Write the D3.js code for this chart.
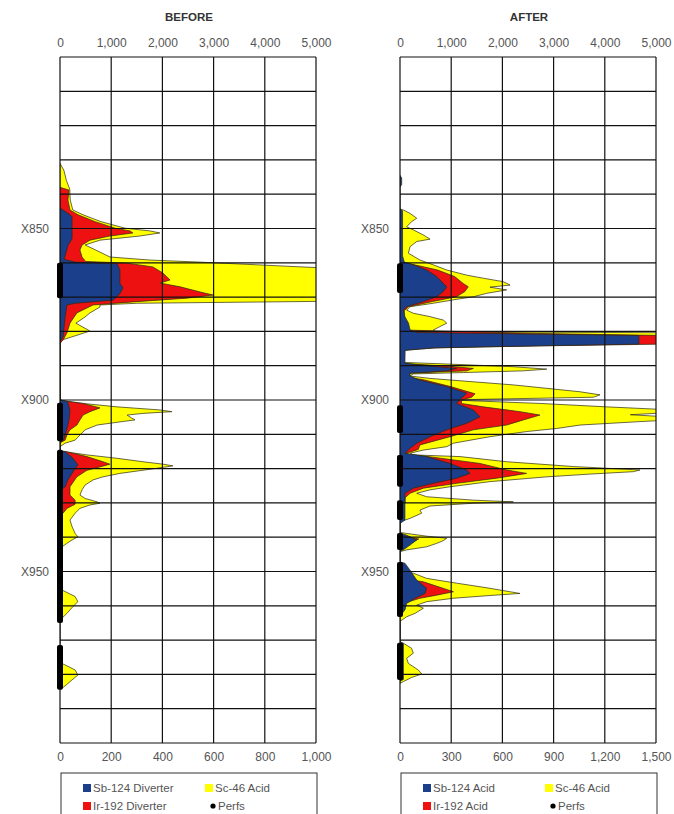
<!DOCTYPE html>
<html>
<head>
<meta charset="utf-8">
<script src="https://cdn.jsdelivr.net/npm/d3@7"></script>
<style>
  body { margin: 0; background: #fff; }
  text { font-family: "Liberation Sans", Arial, sans-serif; }
</style>
</head>
<body>
<div id="chart"></div>
<script>
// ---- data (depth, value) ----
const depthTicks = [850, 900, 950];
const topTicks = [0, 1000, 2000, 3000, 4000, 5000];
const beforeBottomTicks = [0, 200, 400, 600, 800, 1000];
const afterBottomTicks = [0, 300, 600, 900, 1200, 1500];

const beforeSc = [
  [831,0],[833,15],[836,25],[838.5,38],[841.7,40],[844.6,50],[846,90],[848,160],[849.9,254],[850.7,351],[851.3,390],[852.2,312],[853.4,156],[854.8,98],[856.3,140],[858.3,195],[859.2,351],[859.8,547],[860.9,859],[862.1,1200],[871.1,1200],[871.8,300],[872.3,156],[872.9,156],[874.6,117],[875.8,98],[877.6,62],[879.9,117],[881.3,59],[882.5,8],[883.2,0],
  [899.8,0],[900.2,12],[901.0,90],[902.0,223],[902.9,390],[903.4,437],[903.9,324],[904.4,262],[905.3,281],[905.8,293],[906.5,223],[907.3,145],[908.7,98],[910.2,78],[911.7,59],[912.6,20],[913.6,0],
  [914.8,0],[915.1,20],[916.0,105],[917.0,223],[918.0,324],[918.7,402],[919.2,441],[919.9,379],[920.6,312],[921.4,234],[922.4,168],[923.3,129],[924.8,98],[926.2,86],[927.7,78],[928.7,98],[929.7,145],[930.1,156],[930.6,117],[931.6,78],[933.0,59],[935.0,39],[936.9,47],[938.9,59],[939.9,70],[940.8,47],[941.8,27],[942.8,8],[943.5,0],
  [955,0],[955.4,8],[957.3,59],[958.8,70],[960.2,51],[962.2,27],[963.6,8],[964.2,0],
  [976.4,0],[976.8,8],[978.7,59],[980.2,70],[981.6,47],[983.6,16],[984.3,0]
];
const beforeIr = [
  [838,0],[838.8,35],[841.7,31],[844.6,39],[846,70],[848,137],[849.9,215],[850.7,273],[851.3,285],[852.2,195],[853.4,117],[854.8,86],[856.3,78],[858.3,86],[859.6,100],[860.1,262],[861.2,363],[863,402],[865,430],[865.9,390],[867,469],[868.5,547],[869.4,598],[870.3,496],[871.4,285],[872.3,129],[874.6,66],[877.6,39],[880.5,27],[882.5,12],[883.5,0],
  [900,0],[900.4,27],[901,90],[902.3,156],[903.4,117],[904.4,90],[905.8,78],[907.3,66],[908.7,39],[910.2,27],[911.7,20],[912.5,0],
  [914.8,0],[915.1,27],[916.5,105],[918.0,168],[918.7,195],[919.5,156],[920.5,105],[922.4,66],[925.3,39],[927.7,39],[929.2,59],[930.4,59],[931.6,27],[933,12],[933.8,0]
];
const beforeSb = [
  [844,0],[845,20],[846.5,47],[849,47],[853,47],[855,31],[859,16],[859.8,60],[860.3,223],[862,234],[866,234],[867.3,246],[869,234],[870.9,207],[871.8,60],[872.3,27],[875.8,20],[881.6,12],[883,0],
  [900,0],[900.5,30],[903,39],[906,35],[909,25],[911.5,15],[912.5,0],
  [914.9,0],[915.1,20],[917.0,51],[918.9,70],[920.9,51],[923.3,31],[925.3,20],[926.5,0],
  [939.3,0],[940,12],[941,0]
];
const beforePerfs = [[860, 870.3], [900.8, 912], [914.5, 965], [971.4, 984.5]];

const afterSc = [
  [844.3,0],[844.6,20],[845.6,59],[847.0,98],[848.0,68],[849.5,39],[850.4,78],[851.9,137],[853.1,176],[853.8,98],[855.3,59],[857.2,49],[859.2,117],[860.6,195],[862.1,274],[863.6,391],[864.5,489],[865.5,605],[866.5,645],[867.1,527],[867.9,625],[868.9,508],[869.9,430],[870.8,313],[871.8,195],[872.8,59],[873.8,39],[874.7,78],[875.7,176],[876.7,254],[877.6,274],[878.6,234],[879.6,195],[880.1,210],[880.4,1600],[881.3,1550],[883.7,1300],[884.3,600],[884.8,150],[885.5,20],[886,0],
  [889.0,0],[889.5,274],[890.3,664],[891.0,860],[891.5,723],[892.0,371],[892.4,78],[893.0,59],[893.7,176],[894.7,430],[895.6,664],[896.6,860],[897.6,1055],[898.5,1172],[899.2,1133],[899.8,469],[900.0,300],[901.0,820],[902.0,1211],[902.9,1600],[903.6,1600],[904.3,1350],[905.0,1600],[905.8,1600],[906.3,1406],[907.3,1055],[908.3,918],[909.2,742],[910.7,527],[912.6,313],[913.6,274],[914.6,137],[915.5,60],[916.0,78],[916.5,352],[918.0,625],[919.4,1016],[920.4,1406],[920.9,1367],[921.6,1113],[922.4,860],[923.8,527],[925.3,293],[926.2,176],[927.2,98],[928.2,156],[929.2,430],[929.7,664],[930.1,430],[930.9,176],[932.1,117],[933.0,127],[934.5,59],[935.2,18],[935.8,0],
  [938.6,0],[938.9,39],[939.7,156],[940.3,274],[941.0,254],[941.8,215],[942.8,156],[943.7,39],[944.2,0],
  [950,0],[950.5,78],[952.0,156],[953.4,332],[954.9,527],[955.9,645],[956.4,703],[957.0,527],[957.8,313],[958.8,156],[959.8,98],[960.7,137],[962.2,88],[963.2,39],[964,16],[964.5,0],
  [970.5,0],[970.9,20],[972.4,68],[973.8,78],[975.3,39],[976.8,49],[978.7,107],[979.9,127],[980.9,68],[982.1,20],[982.6,0]
];
const afterIr = [
  [859.8,0],[860.3,60],[862.1,220],[864.0,320],[866.0,370],[867.0,400],[868.4,380],[869.9,330],[871.3,190],[872.8,50],[874,25],[879.6,25],[880.6,800],[881.2,1560],[883.7,1560],[884.3,720],[884.8,210],[885.5,30],[886,0],
  [889.2,0],[889.6,100],[890.1,274],[890.8,430],[891.5,391],[892.2,59],[892.6,0],
  [893.2,0],[894,130],[896,290],[898.2,440],[899.2,420],[900,360],[901,360],[902.0,488],[903.4,703],[904.4,820],[905.8,723],[907.3,625],[908.7,430],[910.7,293],[913.1,117],[914.4,107],[915.5,39],[916.0,50],[916.3,137],[918.5,469],[920.4,625],[921.4,742],[922.8,566],[924.3,332],[925.7,137],[927.2,59],[928.5,30],[930,30],[931,0],
  [939.5,0],[940.5,110],[941.5,70],[943,0],
  [952,0],[953.0,137],[954.6,234],[955.9,313],[956.9,215],[957.8,117],[959,40],[960,0]
];
const afterSb = [
  [834.5,0],[835.3,10],[837.2,10],[838,0],
  [844.3,0],[844.8,15],[858,15],[859.8,25],[860.6,78],[862.1,156],[864.0,215],[866.0,254],[867.0,274],[868.4,254],[869.9,215],[871.3,137],[872.8,39],[873.8,20],[875.7,29],[877.6,50],[879.6,59],[880.3,100],[880.8,800],[881.2,1400],[883.7,1400],[884.3,700],[884.8,200],[885.5,30],
  [888.9,29],[889.3,29],[890.1,176],[890.8,332],[891.5,274],[892.2,59],[893.0,59],[894.2,117],[896.1,274],[898.0,391],[900.0,350],[901.0,330],[902.9,430],[904.9,469],[906.8,391],[908.7,274],[910.7,176],[912.6,98],[914.1,59],[915.5,29],[916.5,156],[918.5,293],[920.4,391],[921.4,410],[922.8,332],[924.3,195],[925.7,78],[927.2,29],[935,29],[936,0],
  [938.8,0],[939.4,39],[940.8,98],[942.3,59],[943.7,18],[944.2,0],
  [947.2,0],[947.6,29],[949.6,59],[952.5,98],[954.9,156],[956.4,147],[957.8,88],[959.3,39],[961.2,29],[963,0],
  [970.5,0],[971,20],[981.5,20],[982,0]
];
const afterPerfs = [[860.1, 868.8], [901.5, 909.6], [916, 925.3], [929.2, 935], [938.8, 943.7], [947.2, 963.3], [970.8, 981.6]];

const beforeLegend = ["Sb-124 Diverter", "Ir-192 Diverter", "Sc-46 Acid", "Perfs"];
const afterLegend = ["Sb-124 Acid", "Ir-192 Acid", "Sc-46 Acid", "Perfs"];

const colors = { sb: "#1b3f8b", ir: "#ee1111", sc: "#ffff00", perf: "#000" };

// ---- layout ----
const width = 674, height = 814;
const plotTop = 57, plotBottom = 743, plotW = 256;

const svg = d3.select("#chart").append("svg")
  .attr("width", width)
  .attr("height", height);

const y = d3.scaleLinear().domain([800, 1000]).range([plotTop, plotBottom]);

function drawPanel(id, x0, title, bottomMax, bottomTicks, sb, ir, sc, perfs, legend) {
  const g = svg.append("g");
  const x = d3.scaleLinear().domain([0, bottomMax]).range([x0, x0 + plotW]);
  const xTop = d3.scaleLinear().domain([0, 5000]).range([x0, x0 + plotW]);

  g.append("clipPath").attr("id", "clip" + id)
    .append("rect")
    .attr("x", x0).attr("y", plotTop)
    .attr("width", plotW).attr("height", plotBottom - plotTop);

  // title
  g.append("text")
    .attr("x", x0 + plotW / 2 + 1)
    .attr("y", 21)
    .attr("text-anchor", "middle")
    .attr("font-size", 11.5)
    .attr("font-weight", "bold")
    .attr("fill", "#333")
    .text(title);

  // areas
  const area = d3.area()
    .y(d => y(d[0]))
    .x0(x(0))
    .x1(d => x(d[1]));

  const layers = g.append("g").attr("clip-path", `url(#clip${id})`);
  [[sc, colors.sc], [ir, colors.ir], [sb, colors.sb]].forEach(([dat, c]) => {
    layers.append("path")
      .datum(dat)
      .attr("d", area)
      .attr("fill", c)
      .attr("stroke", "#2a2a12")
      .attr("stroke-width", 0.7)
      .attr("stroke-linejoin", "round");
  });

  // grid
  g.append("g").selectAll("line.h")
    .data(d3.range(800, 1001, 10))
    .join("line")
    .attr("x1", x0).attr("x2", x0 + plotW)
    .attr("y1", d => y(d)).attr("y2", d => y(d))
    .attr("stroke", "#111").attr("stroke-width", 1.2);
  g.append("g").selectAll("line.v")
    .data(topTicks)
    .join("line")
    .attr("x1", d => xTop(d)).attr("x2", d => xTop(d))
    .attr("y1", plotTop).attr("y2", plotBottom)
    .attr("stroke", "#111").attr("stroke-width", 1.2);

  // perfs
  g.append("g").selectAll("rect")
    .data(perfs)
    .join("rect")
    .attr("x", x(0) - 3)
    .attr("width", 6)
    .attr("y", d => y(d[0]))
    .attr("height", d => y(d[1]) - y(d[0]))
    .attr("rx", 2)
    .attr("fill", colors.perf);

  // axes
  const fmt = d3.format(",");
  g.append("g")
    .attr("transform", `translate(0,${plotTop})`)
    .call(d3.axisTop(xTop).tickValues(topTicks).tickFormat(fmt).tickSize(0).tickPadding(10))
    .call(a => a.select(".domain").remove());
  g.append("g")
    .attr("transform", `translate(0,${plotBottom})`)
    .call(d3.axisBottom(x).tickValues(bottomTicks).tickFormat(fmt).tickSize(0).tickPadding(9))
    .call(a => a.select(".domain").remove());
  g.append("g")
    .attr("transform", `translate(${x0},0)`)
    .call(d3.axisLeft(y).tickValues(depthTicks).tickFormat(d => "X" + d).tickSize(0).tickPadding(11))
    .call(a => a.select(".domain").remove());
  g.selectAll(".tick text")
    .attr("font-size", 12)
    .attr("font-family", "Liberation Sans, Arial, sans-serif")
    .attr("fill", "#555");

  // legend
  const lg = g.append("g");
  lg.append("rect")
    .attr("x", x0 + 1).attr("y", 773)
    .attr("width", plotW).attr("height", 50)
    .attr("fill", "#fff").attr("stroke", "#333").attr("stroke-width", 1);
  const items = [
    { label: legend[0], c: colors.sb, dx: 23, dy: 0 },
    { label: legend[1], c: colors.ir, dx: 23, dy: 18 },
    { label: legend[2], c: colors.sc, dx: 145, dy: 0 },
    { label: legend[3], c: colors.perf, dx: 145, dy: 18, dot: true }
  ];
  items.forEach(it => {
    if (it.dot) {
      lg.append("circle")
        .attr("cx", x0 + it.dx + 8).attr("cy", 788 + it.dy)
        .attr("r", 2.6).attr("fill", it.c);
    } else {
      lg.append("rect")
        .attr("x", x0 + it.dx).attr("y", 784 + it.dy)
        .attr("width", 8).attr("height", 8)
        .attr("fill", it.c);
    }
    lg.append("text")
      .attr("x", x0 + it.dx + (it.dot ? 13 : 10))
      .attr("y", 792 + it.dy)
      .attr("font-size", 11.5)
      .attr("fill", "#555")
      .text(it.label);
  });
}

drawPanel("b", 60, "BEFORE", 1000, beforeBottomTicks, beforeSb, beforeIr, beforeSc, beforePerfs, beforeLegend);
drawPanel("a", 400, "AFTER", 1500, afterBottomTicks, afterSb, afterIr, afterSc, afterPerfs, afterLegend);
</script>
</body>
</html>
